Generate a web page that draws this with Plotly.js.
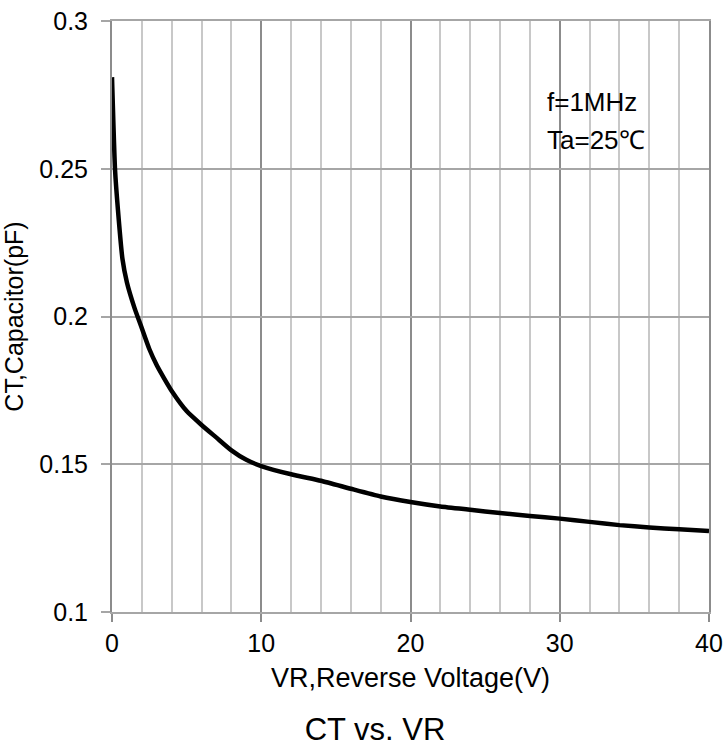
<!DOCTYPE html>
<html>
<head>
<meta charset="utf-8">
<script src="https://cdn.plot.ly/plotly-3.0.1.min.js"></script>
<style>html,body{margin:0;padding:0;background:#fff;}#chart{width:723px;height:749px;}</style>
</head>
<body>
<div id="chart"></div>
<script>
// Reverse voltage VR (V)
const vr = [0, 0.2, 0.4, 0.7, 1.0, 1.5, 2, 2.5, 3, 3.5, 4, 5, 6, 7, 8, 9, 10, 12, 14, 16, 18, 20, 22, 24, 26, 28, 30, 32, 34, 36, 38, 40];
// Capacitance CT (pF)
const ct = [0.281, 0.250, 0.236, 0.2195, 0.2115, 0.203, 0.196, 0.189, 0.1835, 0.179, 0.1748, 0.1680, 0.1633, 0.1590, 0.1547, 0.1515, 0.1494, 0.1466, 0.1444, 0.1417, 0.1391, 0.1372, 0.1357, 0.1346, 0.1335, 0.1325, 0.1316, 0.1305, 0.1294, 0.1286, 0.1280, 0.1274];
const xTicks = [0, 10, 20, 30, 40];
const yTicks = [0.1, 0.15, 0.2, 0.25, 0.3];
const yTickText = ['0.1', '0.15', '0.2', '0.25', '0.3'];
const noteLines = ['f=1MHz', 'Ta=25℃'];

const font = 'Arial, "Liberation Sans", sans-serif';
const trace = {
  x: vr, y: ct, type: 'scatter', mode: 'lines',
  line: {color: '#000', width: 4.5, shape: 'spline', smoothing: 0.5},
  hoverinfo: 'skip'
};
const layout = {
  width: 723, height: 749,
  margin: {l: 112, r: 14, t: 20.5, b: 137},
  paper_bgcolor: '#fff', plot_bgcolor: '#fff',
  showlegend: false,
  font: {family: font, color: '#000'},
  title: {text: 'CT vs. VR', font: {family: font, size: 31, color: '#000'},
          x: 375 / 723, xanchor: 'center', y: 1 - 729 / 749, yanchor: 'middle', yref: 'container'},
  xaxis: {
    range: [0, 40], tickvals: xTicks, ticktext: xTicks.map(String),
    showgrid: true, gridcolor: '#8c8c8c', gridwidth: 2,
    minor: {dtick: 2, tick0: 0, showgrid: true, gridcolor: '#c8c8c8', gridwidth: 2, ticks: ''},
    zeroline: false, showline: true, linecolor: '#a6a6a6', linewidth: 2, mirror: true,
    ticks: 'outside', ticklen: 8, tickwidth: 2, tickcolor: '#8c8c8c',
    tickfont: {family: font, size: 25, color: '#000'},
    title: {text: 'VR,Reverse Voltage(V)', font: {family: font, size: 27, color: '#000'}, standoff: 12},
    fixedrange: true
  },
  yaxis: {
    range: [0.1, 0.3], tickvals: yTicks, ticktext: yTickText,
    showgrid: true, gridcolor: '#a6a6a6', gridwidth: 2,
    zeroline: false, showline: true, linecolor: '#8c8c8c', linewidth: 2, mirror: true,
    ticks: 'outside', ticklen: 9, tickwidth: 2, tickcolor: '#a6a6a6',
    ticklabelstandoff: 8,
    tickfont: {family: font, size: 25, color: '#000'},
    title: {text: 'CT,Capacitor(pF)', font: {family: font, size: 25, color: '#000'}, standoff: 12},
    fixedrange: true
  },
  annotations: [
    {x: 29.0, y: 0.3 - (101.7 - 20.5) / 2956, xref: 'x', yref: 'y', text: noteLines[0], showarrow: false,
     xanchor: 'left', yanchor: 'middle', font: {family: font, size: 26, color: '#000'}},
    {x: 29.0, y: 0.3 - (140 - 20.5) / 2956, xref: 'x', yref: 'y', text: noteLines[1], showarrow: false,
     xanchor: 'left', yanchor: 'middle', font: {family: font, size: 26, color: '#000'}}
  ]
};
Plotly.newPlot('chart', [trace], layout, {displayModeBar: false, staticPlot: true});
</script>
</body>
</html>
